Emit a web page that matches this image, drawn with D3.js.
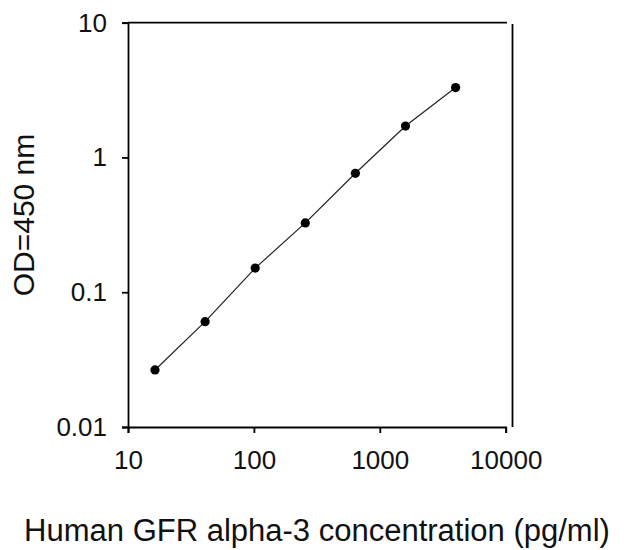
<!DOCTYPE html>
<html>
<head>
<title>Human GFR alpha-3 standard curve</title>
<script src="https://d3js.org/d3.v7.min.js"></script>
</head>
<body style="margin:0;background:#fff;">
</body>

<style>
  text { font-family: "Liberation Sans", Arial, sans-serif; fill: #111; }
  .axis path, .axis line { stroke: #000; stroke-width: 1.8px; }
</style>

<script>

// standard curve readings
var concentration = [16.384, 40.96, 102.4, 256, 640, 1600, 4000];
var od450 = [0.0265, 0.0605, 0.151, 0.327, 0.763, 1.71, 3.3];

var xTicks = [10, 100, 1000, 10000];
var yTicks = [0.01, 0.1, 1, 10];

var xTitle = "Human GFR alpha-3 concentration (pg/ml)";
var yTitle = "OD=450 nm";

var width = 628, height = 550;

var svg = d3.select("body").append("svg")
	.attr("width", width)
	.attr("height", height);

var x = d3.scaleLog().domain([10, 10000]).range([128, 505.7]);
var y = d3.scaleLog().domain([0.01, 10]).range([427, 22.7]);

// bottom axis
svg.append("g")
	.attr("class", "axis")
	.attr("transform", "translate(0," + y(0.01) + ")")
	.call(d3.axisBottom(x)
		.tickValues(xTicks)
		.tickFormat(function(d){ return String(d); })
		.tickSizeOuter(0)
		.tickSize(6)
		.tickPadding(18))
	.selectAll("text")
	.style("font-size", "26px");

// left axis
svg.append("g")
	.attr("class", "axis")
	.attr("transform", "translate(" + x(10) + ",0)")
	.call(d3.axisLeft(y)
		.tickValues(yTicks)
		.tickFormat(function(d){ return String(d); })
		.tickSizeOuter(0)
		.tickSize(6)
		.tickPadding(15))
	.selectAll("text")
	.style("font-size", "26px");

// frame: top and right (they don't quite meet, like the original)
svg.append("line")
	.attr("x1", x(10)).attr("x2", 507)
	.attr("y1", y(10)).attr("y2", y(10))
	.style("stroke", "#000").style("stroke-width", 1.8);

svg.append("line")
	.attr("x1", 512.5).attr("x2", 512.5)
	.attr("y1", 24).attr("y2", y(0.01))
	.style("stroke", "#000").style("stroke-width", 1.8);

var pts = concentration.map(function(c, i){ return {c: c, od: od450[i]}; });

svg.append("path")
	.datum(pts)
	.attr("d", d3.line()
		.x(function(d){ return x(d.c); })
		.y(function(d){ return y(d.od); }))
	.style("fill", "none")
	.style("stroke", "#222")
	.style("stroke-width", 1.2);

svg.selectAll("circle")
	.data(pts)
	.enter()
	.append("circle")
	.attr("cx", function(d){ return x(d.c); })
	.attr("cy", function(d){ return y(d.od); })
	.attr("r", 4.6)
	.style("fill", "#000");

// titles
svg.append("text")
	.attr("x", 317)
	.attr("y", 541)
	.attr("text-anchor", "middle")
	.style("font-size", "31px")
	.text(xTitle);

svg.append("text")
	.attr("transform", "translate(34,215) rotate(-90)")
	.attr("text-anchor", "middle")
	.style("font-size", "30px")
	.text(yTitle);

</script>
</html>
